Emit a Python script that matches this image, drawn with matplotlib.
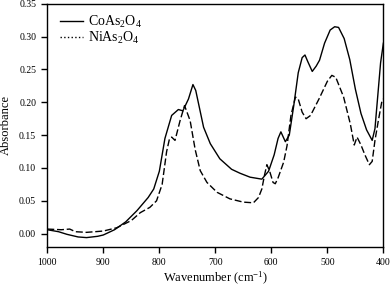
import matplotlib
matplotlib.use("Agg")
import matplotlib.pyplot as plt
from matplotlib.lines import Line2D

plt.rcParams['font.family'] = ['Liberation Serif', 'DejaVu Serif']
plt.rcParams['mathtext.fontset'] = 'custom'
plt.rcParams['mathtext.rm'] = 'Liberation Serif'
plt.rcParams['mathtext.it'] = 'Liberation Serif:italic'

# CoAs2O4 (solid)
co_wn = [1000, 980, 965, 945, 930, 910, 900, 880, 860, 840, 820, 810, 800, 790,
         778, 766, 758, 748, 740, 735, 730, 721, 709, 692, 671, 656, 638, 617,
         605, 595, 588, 583, 575, 568, 560, 552, 545, 540, 535, 527, 520, 514,
         505, 495, 487, 480, 470, 460, 450, 440, 430, 420, 415, 410, 405, 400]
co_abs = [0.006, 0.003, -0.001, -0.005, -0.006, -0.004, -0.002, 0.006, 0.018,
          0.035, 0.055, 0.068, 0.095, 0.145, 0.180, 0.189, 0.187, 0.205, 0.227,
          0.218, 0.198, 0.162, 0.137, 0.114, 0.098, 0.092, 0.086, 0.083, 0.095,
          0.120, 0.145, 0.155, 0.140, 0.150, 0.195, 0.245, 0.268, 0.272, 0.262,
          0.247, 0.255, 0.264, 0.290, 0.310, 0.315, 0.314, 0.297, 0.265, 0.220,
          0.183, 0.158, 0.142, 0.160, 0.210, 0.260, 0.290]

# NiAs2O4 (dashed)
ni_wn = [1000, 975, 960, 950, 930, 900, 876, 850, 834, 817, 805, 795, 787, 782,
         778, 772, 763, 755, 745, 736, 727, 715, 697, 674, 650, 632, 623, 617,
         612, 608, 603, 597, 593, 588, 578, 572, 565, 557, 552, 545, 538, 530,
         515, 500, 492, 485, 471, 459, 452, 447, 440, 433, 425, 420, 415, 409,
         403, 400]
ni_abs = [0.007, 0.006, 0.007, 0.003, 0.002, 0.004, 0.009, 0.020, 0.032, 0.040,
          0.050, 0.075, 0.125, 0.144, 0.147, 0.142, 0.172, 0.195, 0.172, 0.128,
          0.096, 0.078, 0.063, 0.053, 0.048, 0.047, 0.055, 0.068, 0.090, 0.105,
          0.095, 0.078, 0.076, 0.085, 0.109, 0.134, 0.180, 0.208, 0.205, 0.185,
          0.175, 0.180, 0.205, 0.232, 0.241, 0.238, 0.208, 0.167, 0.135, 0.147,
          0.135, 0.120, 0.105, 0.110, 0.142, 0.172, 0.200, 0.205]

x_ticks = [1000, 900, 800, 700, 600, 500, 400]
y_ticks = [0.00, 0.05, 0.10, 0.15, 0.20, 0.25, 0.30, 0.35]

fig = plt.figure(figsize=(3.92, 2.89), dpi=100)
ax = fig.add_axes([0.1207, 0.146, 0.8573, 0.841])

ax.plot(co_wn, co_abs, color='black', lw=1.0, ls='-')
ax.plot(ni_wn, ni_abs, color='black', lw=1.0, ls=(0, (5, 2)))

ax.set_xlim(1000, 400)
ax.set_ylim(-0.02, 0.35)
ax.set_xticks(x_ticks)
ax.set_yticks(y_ticks)
ax.set_yticklabels(['%.2f' % v for v in y_ticks])
ax.tick_params(direction='out', length=4, width=1, labelsize=7, pad=4)
for s in ax.spines.values():
    s.set_linewidth(1)

ax.set_xlabel('Wavenumber (cm$^{-1}$)', fontsize=9, labelpad=2)
ax.set_ylabel('Absorbance', fontsize=9, labelpad=5)

handles = [Line2D([], [], color='black', lw=1.0, ls='-'),
           Line2D([], [], color='black', lw=1.0, ls=':')]
ax.legend(handles, ['CoAs$_2$O$_4$', 'NiAs$_2$O$_4$'], loc='upper left',
          frameon=False, fontsize=10, handlelength=1.6, handletextpad=0.4,
          labelspacing=0.0, borderaxespad=0.3, bbox_to_anchor=(0.01, 1.0))

fig.savefig('out.png', dpi=100)
